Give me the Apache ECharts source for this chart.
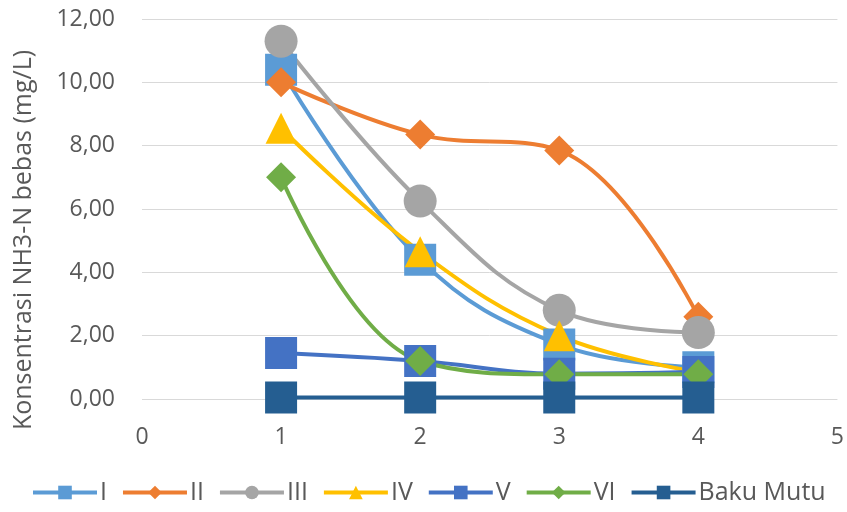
<!DOCTYPE html>
<html>
<head>
<meta charset="utf-8">
<script src="https://cdn.jsdelivr.net/npm/echarts@6/dist/echarts.min.js"></script>
<style>
  html, body { margin: 0; padding: 0; background: #ffffff; }
  #chart { width: 847px; height: 512px; }
</style>
</head>
<body>
<div id="chart"></div>
<script>
// Sampling points (x) and measured free NH3-N concentration per treatment
const samplePoints = [1, 2, 3, 4];
const seriesNames = ['I', 'II', 'III', 'IV', 'V', 'VI', 'Baku Mutu'];
const valuesI   = [10.4, 4.4, 1.72, 1.0];
const valuesII  = [10.0, 8.35, 7.85, 2.6];
const valuesIII = [11.3, 6.25, 2.8, 2.1];
const valuesIV  = [8.55, 4.65, 2.0, 0.85];
const valuesV   = [1.45, 1.2, 0.8, 0.85];
const valuesVI  = [7.0, 1.2, 0.78, 0.78];
const valuesBakuMutu = [0.05, 0.05, 0.05, 0.05];
const yTicks = [0, 2, 4, 6, 8, 10, 12];
const xTicks = [0, 1, 2, 3, 4, 5];

const allValues = [valuesI, valuesII, valuesIII, valuesIV, valuesV, valuesVI, valuesBakuMutu];
const colors = ['#5B9BD5', '#ED7D31', '#A5A5A5', '#FFC000', '#4472C4', '#70AD47', '#255E91'];
const symbols = ['rect', 'diamond', 'circle', 'triangle', 'rect', 'diamond', 'rect'];
const symbolSizes = [32, 30, 33, 31, 32, 30, 32];

const FONT = '"Open Sans", sans-serif';
const TEXT = '#595959';

const series = seriesNames.map((name, i) => ({
  name: name,
  type: 'line',
  smooth: 0.4,
  data: samplePoints.map((x, k) => [x, allValues[i][k]]),
  symbol: symbols[i],
  symbolSize: symbolSizes[i],
  showAllSymbol: true,
  lineStyle: { color: colors[i], width: 4 },
  itemStyle: { color: colors[i], borderWidth: 0 },
  emphasis: { disabled: true },
  animation: false
}));

const chart = echarts.init(document.getElementById('chart'), null, { renderer: 'canvas' });
chart.setOption({
  backgroundColor: '#ffffff',
  animation: false,
  textStyle: { fontFamily: FONT },
  grid: { left: 142, right: 8, top: 19, bottom: 113, containLabel: false },
  xAxis: {
    type: 'value',
    min: xTicks[0],
    max: xTicks[xTicks.length - 1],
    interval: 1,
    axisLine: { show: false },
    axisTick: { show: false },
    splitLine: { show: false },
    axisLabel: { color: TEXT, fontSize: 23, fontFamily: FONT, margin: 27 }
  },
  yAxis: {
    type: 'value',
    min: yTicks[0],
    max: yTicks[yTicks.length - 1],
    interval: 2,
    name: 'Konsentrasi NH3-N bebas (mg/L)',
    nameLocation: 'middle',
    nameGap: 106,
    nameTextStyle: { color: TEXT, fontSize: 25, fontFamily: FONT, padding: [0, 62, 0, 0] },
    axisLine: { show: false },
    axisTick: { show: false },
    splitLine: { lineStyle: { color: '#D9D9D9', width: 1 } },
    axisLabel: {
      color: TEXT, fontSize: 23, fontFamily: FONT, margin: 27,
      formatter: v => v.toFixed(2).replace('.', ',')
    }
  },
  legend: {
    bottom: 2,
    left: 26,
    itemWidth: 64,
    itemHeight: 17,
    itemGap: 14,
    lineStyle: { width: 4 },
    textStyle: { color: TEXT, fontSize: 25, fontFamily: FONT, padding: [0, 0, 0, -2] },
    data: seriesNames
  },
  series: series
});
</script>
</body>
</html>
